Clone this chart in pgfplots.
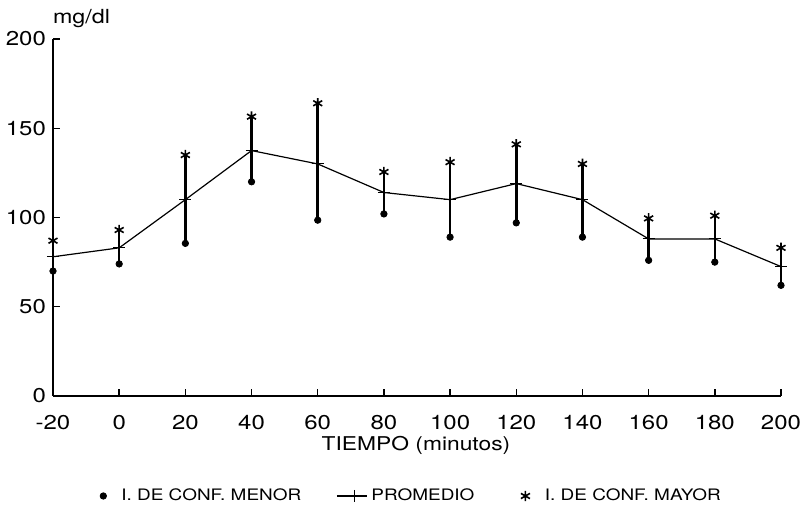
\documentclass[border=0pt]{standalone}
\usepackage{fontspec}
\setmainfont{TeX Gyre Heros}[FakeStretch=1.2]
\usepackage{pgfplots}
\pgfplotsset{compat=1.18}
\usepackage{pgfplotstable}

% tiempo (min), promedio, intervalo de confianza menor y mayor (mg/dl)
\pgfplotstableread{
x    mean   lo    hi
-20  78     70    87
0    83     74    93
20   110    85.5  135
40   137.5  120   156.5
60   130    98.5  164
80   114    102   125.5
100  110    89    131
120  119    97    141
140  110    89    130
160  88     76    99.5
180  88     75    101
200  72.5   62    83
}\datos

% segmentos verticales de cada intervalo (limite menor, limite mayor)
\pgfplotstableread{
x    y
-20  70
-20  87
-20  nan
0    74
0    93
0    nan
20   85.5
20   135
20   nan
40   120
40   156.5
40   nan
60   98.5
60   164
60   nan
80   102
80   125.5
80   nan
100  89
100  131
100  nan
120  97
120  141
120  nan
140  89
140  130
140  nan
160  76
160  99.5
160  nan
180  75
180  101
180  nan
200  62
200  83
}\barras

\pgfplotsset{
  dotlegend/.style={legend image code/.code={\path[draw=none] (0pt,-1pt) rectangle (14pt,1pt); \draw[##1] plot coordinates {(8pt,0pt)};}},
  starlegend/.style={legend image code/.code={\path[draw=none] (0pt,-1pt) rectangle (15.7pt,1pt); \draw[##1] plot coordinates {(8pt,0pt)};}},
  linelegend/.style={legend image code/.code={\draw[##1, mark=none] (0pt,0pt) -- (15pt,0pt); \draw[##1, draw=none] plot coordinates {(9pt,0pt)};}},
}

\begin{document}
\begin{tikzpicture}
\begin{axis}[
  at={(0,0)}, anchor=south west,
  scale only axis,
  width=364pt, height=178.5pt,
  xmin=-20, xmax=200, ymin=0, ymax=200,
  clip=false,
  unbounded coords=jump,
  axis x line=bottom, axis y line=left,
  axis line style={line width=0.8pt, -},
  xtick={-20,0,20,40,60,80,100,120,140,160,180,200},
  xticklabels={-20,0,20,40,60,80,100,120,140,160,180,200},
  ytick={0,50,100,150,200},
  yticklabels={0,50,100,150,200},
  tick align=inside,
  major tick length=3.5pt,
  tick style={line width=0.7pt, black},
  ticklabel style={font=\fontsize{10}{12}\selectfont},
  xticklabel style={anchor=north, yshift=-6pt},
  xlabel={TIEMPO (minutos)},
  xlabel style={font=\fontsize{9.5}{11}\selectfont, at={(axis description cs:0.4986,0)}, anchor=center, yshift=-24.5pt},
  ylabel={mg/dl},
  ylabel style={font=\fontsize{9.7}{11}\selectfont, rotate=-90, at={(axis description cs:0,1)}, anchor=center, xshift=14.25pt, yshift=10pt},
  legend columns=3,
  legend style={draw=none, fill=none, at={(0.485,0)}, anchor=center, yshift=-50pt,
    font=\fontsize{7.9}{9}\selectfont,
    /tikz/every even column/.append style={column sep=15.5pt},
    /tikz/column 1/.style={column sep=1pt}},
]
% barras de los intervalos de confianza
\addplot[forget plot, black, line width=1.3pt, mark=none] table[x=x, y=y] {\barras};

\addplot[only marks, mark=*, mark size=1.6pt, black, dotlegend]
  table[x=x, y=lo] {\datos};
\addlegendentry{I. DE CONF. MENOR}

\addplot[black, line width=0.6pt, mark=+, mark size=3pt,
  mark options={line width=0.5pt}, linelegend]
  table[x=x, y=mean] {\datos};
\addlegendentry{PROMEDIO}

\addplot[only marks, mark=asterisk, mark size=2.6pt, black,
  mark options={line width=0.8pt}, starlegend]
  table[x=x, y=hi] {\datos};
\addlegendentry{I. DE CONF. MAYOR}
\end{axis}
\pgfresetboundingbox
\path[use as bounding box] (-26.5pt,-56pt) rectangle (376pt,198pt);
\end{tikzpicture}
\end{document}
